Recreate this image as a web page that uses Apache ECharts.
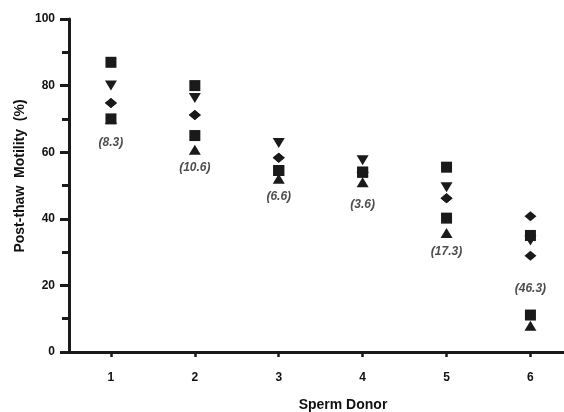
<!DOCTYPE html>
<html>
<head>
<meta charset="utf-8">
<script src="https://cdn.jsdelivr.net/npm/echarts@6/dist/echarts.min.js"></script>
<style>
  html, body { margin: 0; padding: 0; background: #fff; }
  #chart { width: 564px; height: 412px; }
</style>
</head>
<body>
<div id="chart"></div>
<script>
// Sperm donors on the x axis
const donors = [1, 2, 3, 4, 5, 6];

// Post-thaw motility (%) per donor, one array per replicate marker
const squareHigh   = [87, 80, 54.5, 54, 55.5, 35];
const triangleDown = [80, 76.3, 62.8, 57.6, 49.5, 33.5];
const diamondHigh  = [74.8, 71.2, 58.3, 54, 46.2, 40.8];
const squareLow    = [70, 65, 54.5, 54, 40.2, 11.1];
const diamondLow   = [74.8, 71.2, 58.3, 54, 46.2, 28.9];
const triangleUp   = [70, 60.7, 52, 51, 35.7, 7.9];

// Coefficient of variation shown under each donor, and the value it sits at
const cvLabels = ['(8.3)', '(10.6)', '(6.6)', '(3.6)', '(17.3)', '(46.3)'];
const cvAnchor = [62.8, 55.3, 46.5, 44.3, 30, 18.9];

// Axis ticks
const yTicks = [0, 20, 40, 60, 80, 100];

const pair = arr => donors.map((d, i) => [d, arr[i]]);
const ink = '#1a1a1a';
const sans = '"Liberation Sans", Arial, sans-serif';

function markerSeries(name, data, symbol, size, rotate) {
  return {
    name, type: 'scatter', data: pair(data),
    symbol, symbolSize: size, symbolRotate: rotate || 0,
    itemStyle: { color: ink, opacity: 1 },
    emphasis: { disabled: true }
  };
}

const chart = echarts.init(document.getElementById('chart'), null, { renderer: 'canvas' });
chart.setOption({
  animation: false,
  backgroundColor: '#fff',
  grid: { left: 69, right: 0, top: 19, bottom: 60, containLabel: false, outerBoundsMode: 'none' },
  xAxis: {
    type: 'value', min: 0.5, max: 6.4,
    axisLine: { show: true, onZero: false, lineStyle: { color: ink, width: 3 } },
    axisTick: { show: true, length: 5, customValues: donors, lineStyle: { color: ink, width: 2.5 } },
    axisLabel: {
      customValues: donors, margin: 20, color: '#111',
      fontFamily: sans, fontWeight: 'bold', fontSize: 12
    },
    splitLine: { show: false }
  },
  yAxis: {
    type: 'value', min: 0, max: 100, interval: 20,
    axisLine: { show: true, lineStyle: { color: ink, width: 3 } },
    axisTick: { show: true, length: 9, customValues: yTicks, lineStyle: { color: ink, width: 3 } },
    minorTick: { show: true, splitNumber: 2, length: 7, lineStyle: { color: ink, width: 3 } },
    axisLabel: {
      margin: 14, color: '#111',
      fontFamily: sans, fontWeight: 'bold', fontSize: 12
    },
    splitLine: { show: false }
  },
  graphic: [{
    type: 'text', x: 343, y: 405,
    style: {
      text: 'Sperm Donor', fill: '#111', align: 'center', verticalAlign: 'middle',
      font: 'bold 14px "Liberation Sans", Arial, sans-serif'
    }
  }, {
    type: 'text', x: 20, y: 176, rotation: Math.PI / 2,
    style: {
      text: 'Post-thaw  Motility  (%)', fill: '#111', align: 'center', verticalAlign: 'middle',
      font: 'bold 14px "Liberation Sans", Arial, sans-serif'
    }
  }],
  series: [
    markerSeries('Triangle up', triangleUp, 'triangle', [12, 10]),
    markerSeries('Square low', squareLow, 'rect', [11, 11]),
    markerSeries('Diamond low', diamondLow, 'diamond', [12, 10]),
    markerSeries('Diamond high', diamondHigh, 'diamond', [12, 10]),
    markerSeries('Triangle down', triangleDown, 'triangle', [12, 10], 180),
    markerSeries('Square high', squareHigh, 'rect', [11, 11]),
    {
      name: 'CV', type: 'scatter', symbolSize: 0,
      data: pair(cvAnchor),
      label: {
        show: true, position: 'inside',
        formatter: p => cvLabels[p.dataIndex],
        color: '#222', fontFamily: sans,
        fontStyle: 'italic', fontWeight: 'bold', fontSize: 12
      },
      emphasis: { disabled: true }
    }
  ]
});
</script>
</body>
</html>
